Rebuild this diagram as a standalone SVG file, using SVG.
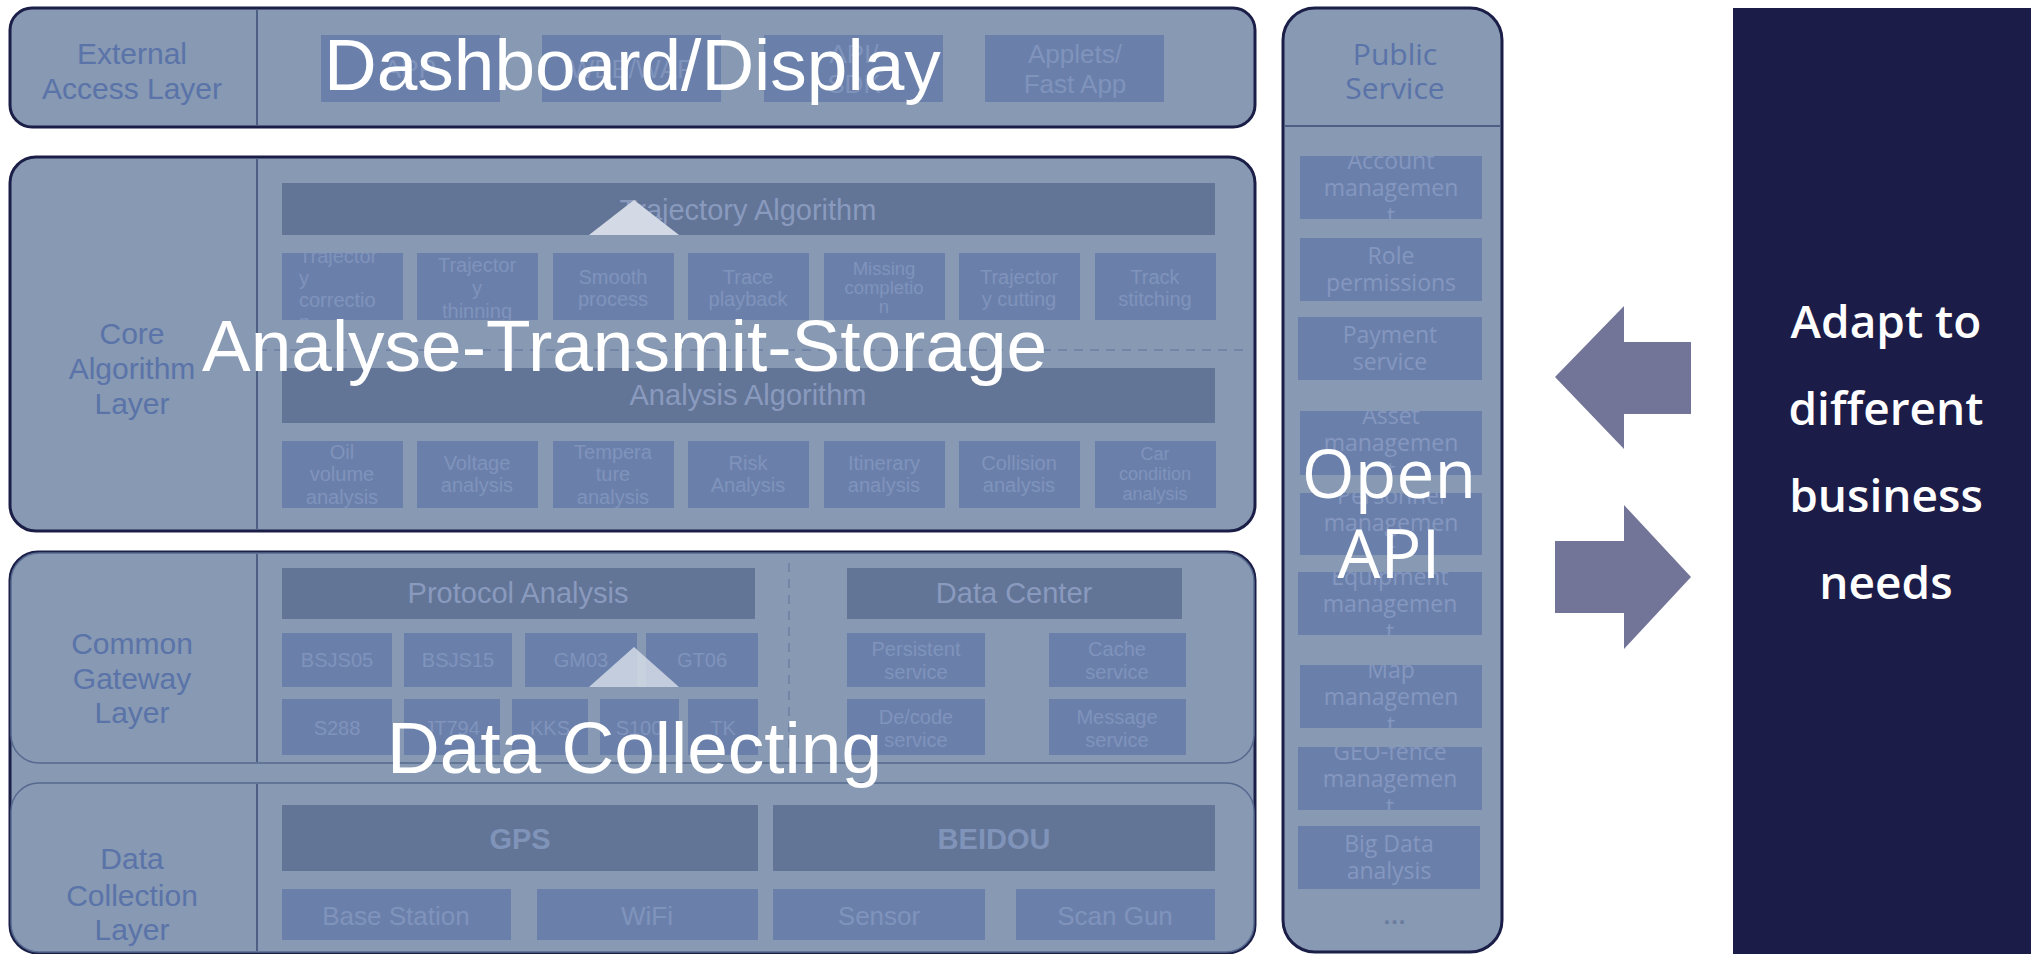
<svg xmlns="http://www.w3.org/2000/svg" width="2031" height="954" viewBox="0 0 2031 954">
<defs>
<style>
.layer{fill:#8799b3;stroke:#1b1f48;stroke-width:3}
.inner{fill:#8799b3;stroke:#56698f;stroke-width:1.5}
.div{stroke:#4d5f85;stroke-width:2}
.bar{fill:#627597}
.box{fill:#6a80ab}
.lbl{font-family:"Liberation Sans",Arial,sans-serif;font-size:30px;fill:#5a73a8;text-anchor:middle}
.bt{font-family:"Liberation Sans",Arial,sans-serif;font-size:29px;fill:#8a9abe;text-anchor:middle}
.st{font-family:"Liberation Sans",Arial,sans-serif;font-size:20px;fill:#8093bb;text-anchor:middle}
.mt{font-family:"Liberation Sans",Arial,sans-serif;font-size:26px;fill:#8093bb;text-anchor:middle}
.gt{font-family:"Liberation Sans",Arial,sans-serif;font-size:29px;font-weight:bold;fill:#8093b9;text-anchor:middle}
.pl{font-family:"Open Sans","Liberation Sans",sans-serif;font-size:30px;fill:#5a73a8;text-anchor:middle}
.pt{font-family:"Open Sans","Liberation Sans",sans-serif;font-size:23px;fill:#8597bf;text-anchor:middle}
.big{font-family:"Liberation Sans",Arial,sans-serif;font-size:73px;fill:#ffffff}
.api{font-family:"Open Sans","Liberation Sans",sans-serif;font-size:68px;fill:#ffffff;text-anchor:middle}
.adapt{font-family:"Open Sans","Liberation Sans",sans-serif;font-size:46px;font-weight:600;fill:#ffffff;text-anchor:middle}
.tri{fill:#d4dae5}
.arrow{fill:#737598}
</style>
<clipPath id="c1"><rect x="282" y="253" width="121" height="67"/></clipPath>
<clipPath id="c2"><rect x="417" y="253" width="121" height="67"/></clipPath>
<clipPath id="pa"><rect x="1300" y="156" width="182" height="63"/></clipPath>
<clipPath id="pb"><rect x="1300" y="411" width="182" height="64"/></clipPath>
<clipPath id="pc"><rect x="1300" y="493" width="182" height="62"/></clipPath>
<clipPath id="pd"><rect x="1298" y="572" width="184" height="63"/></clipPath>
<clipPath id="pe"><rect x="1300" y="665" width="182" height="63"/></clipPath>
<clipPath id="pf"><rect x="1298" y="747" width="184" height="63"/></clipPath>
</defs>

<g id="external-access-layer">
<rect class="layer" x="10" y="8" width="1245" height="119" rx="22"/>
<line class="div" x1="257" y1="9" x2="257" y2="126"/>
<text class="lbl" x="132" y="64">External</text>
<text class="lbl" x="132" y="99">Access Layer</text>
<rect class="box" x="321" y="35" width="179" height="67"/>
<text class="mt" x="410" y="78">APP</text>
<rect class="box" x="542" y="35" width="179" height="67"/>
<text class="mt" x="632" y="78">WEB/WAP</text>
<rect class="box" x="764" y="35" width="179" height="67"/>
<text class="mt" x="854" y="63">API/</text>
<text class="mt" x="854" y="93">SDK</text>
<rect class="box" x="985" y="35" width="179" height="67"/>
<text class="mt" x="1075" y="63">Applets/</text>
<text class="mt" x="1075" y="93">Fast App</text>
</g>

<g id="core-algorithm-layer">
<rect class="layer" x="10" y="157" width="1245" height="374" rx="26"/>
<line class="div" x1="257" y1="158" x2="257" y2="530"/>
<text class="lbl" x="132" y="344">Core</text>
<text class="lbl" x="132" y="379">Algorithm</text>
<text class="lbl" x="132" y="414">Layer</text>
<rect class="bar" x="282" y="183" width="933" height="52"/>
<text class="bt" x="748" y="220">Trajectory Algorithm</text>
<line x1="258" y1="350" x2="1243" y2="350" stroke="#6d7fa3" stroke-width="1.5" stroke-dasharray="9,7"/>
<rect class="bar" x="282" y="368" width="933" height="55"/>
<text class="bt" x="748" y="405">Analysis Algorithm</text>

<rect class="box" x="282" y="253" width="121" height="67"/>
<g clip-path="url(#c1)">
<text class="st" x="299" y="263" style="text-anchor:start">Trajector</text>
<text class="st" x="299" y="285" style="text-anchor:start">y</text>
<text class="st" x="299" y="307" style="text-anchor:start">correctio</text>
<text class="st" x="299" y="329" style="text-anchor:start">n</text>
</g>
<rect class="box" x="417" y="253" width="121" height="67"/>
<g clip-path="url(#c2)">
<text class="st" x="477" y="272">Trajector</text>
<text class="st" x="477" y="295">y</text>
<text class="st" x="477" y="318">thinning</text>
</g>
<rect class="box" x="553" y="253" width="121" height="67"/>
<text class="st" x="613" y="284">Smooth</text>
<text class="st" x="613" y="306">process</text>
<rect class="box" x="688" y="253" width="121" height="67"/>
<text class="st" x="748" y="284">Trace</text>
<text class="st" x="748" y="306">playback</text>
<rect class="box" x="824" y="253" width="121" height="67"/>
<text class="st" x="884" y="275" style="font-size:18.5px">Missing</text>
<text class="st" x="884" y="294" style="font-size:18.5px">completio</text>
<text class="st" x="884" y="313" style="font-size:18.5px">n</text>
<rect class="box" x="959" y="253" width="121" height="67"/>
<text class="st" x="1019" y="284">Trajector</text>
<text class="st" x="1019" y="306">y cutting</text>
<rect class="box" x="1095" y="253" width="121" height="67"/>
<text class="st" x="1155" y="284">Track</text>
<text class="st" x="1155" y="306">stitching</text>

<rect class="box" x="282" y="441" width="121" height="67"/>
<text class="st" x="342" y="459">Oil</text>
<text class="st" x="342" y="481">volume</text>
<text class="st" x="342" y="504">analysis</text>
<rect class="box" x="417" y="441" width="121" height="67"/>
<text class="st" x="477" y="470">Voltage</text>
<text class="st" x="477" y="492">analysis</text>
<rect class="box" x="553" y="441" width="121" height="67"/>
<text class="st" x="613" y="459">Tempera</text>
<text class="st" x="613" y="481">ture</text>
<text class="st" x="613" y="504">analysis</text>
<rect class="box" x="688" y="441" width="121" height="67"/>
<text class="st" x="748" y="470">Risk</text>
<text class="st" x="748" y="492">Analysis</text>
<rect class="box" x="824" y="441" width="121" height="67"/>
<text class="st" x="884" y="470">Itinerary</text>
<text class="st" x="884" y="492">analysis</text>
<rect class="box" x="959" y="441" width="121" height="67"/>
<text class="st" x="1019" y="470">Collision</text>
<text class="st" x="1019" y="492">analysis</text>
<rect class="box" x="1095" y="441" width="121" height="67"/>
<text class="st" x="1155" y="460" style="font-size:18px">Car</text>
<text class="st" x="1155" y="480" style="font-size:18px">condition</text>
<text class="st" x="1155" y="500" style="font-size:18px">analysis</text>
</g>

<g id="lower-frame">
<rect class="layer" x="10" y="552" width="1245" height="401" rx="28"/>
</g>

<g id="common-gateway-layer">
<rect class="inner" x="11" y="553" width="1243" height="210" rx="28"/>
<line class="div" x1="257" y1="554" x2="257" y2="762"/>
<text class="lbl" x="132" y="654">Common</text>
<text class="lbl" x="132" y="689">Gateway</text>
<text class="lbl" x="132" y="723">Layer</text>
<rect class="bar" x="282" y="568" width="473" height="51"/>
<text class="bt" x="518" y="603">Protocol Analysis</text>
<line x1="789" y1="563" x2="789" y2="753" stroke="#6d7fa3" stroke-width="1.5" stroke-dasharray="9,7"/>
<rect class="bar" x="847" y="568" width="335" height="51"/>
<text class="bt" x="1014" y="603">Data Center</text>
<rect class="box" x="282" y="633" width="110" height="54"/>
<text class="st" x="337" y="667">BSJS05</text>
<rect class="box" x="404" y="633" width="108" height="54"/>
<text class="st" x="458" y="667">BSJS15</text>
<rect class="box" x="525" y="633" width="112" height="54"/>
<text class="st" x="581" y="667">GM03</text>
<rect class="box" x="646" y="633" width="112" height="54"/>
<text class="st" x="702" y="667">GT06</text>
<rect class="box" x="282" y="699" width="110" height="56"/>
<text class="st" x="337" y="735">S288</text>
<rect class="box" x="404" y="699" width="96" height="56"/>
<text class="st" x="452" y="735">JT794</text>
<rect class="box" x="512" y="699" width="76" height="56"/>
<text class="st" x="550" y="735">KKS</text>
<rect class="box" x="600" y="699" width="79" height="56"/>
<text class="st" x="639" y="735">S100</text>
<rect class="box" x="688" y="699" width="70" height="56"/>
<text class="st" x="723" y="735">TK</text>
<rect class="box" x="847" y="633" width="138" height="54"/>
<text class="st" x="916" y="656">Persistent</text>
<text class="st" x="916" y="679">service</text>
<rect class="box" x="1049" y="633" width="137" height="54"/>
<text class="st" x="1117" y="656">Cache</text>
<text class="st" x="1117" y="679">service</text>
<rect class="box" x="847" y="699" width="138" height="56"/>
<text class="st" x="916" y="724">De/code</text>
<text class="st" x="916" y="747">service</text>
<rect class="box" x="1049" y="699" width="137" height="56"/>
<text class="st" x="1117" y="724">Message</text>
<text class="st" x="1117" y="747">service</text>
</g>

<g id="data-collection-layer">
<rect class="inner" x="11" y="783" width="1243" height="169" rx="28"/>
<line class="div" x1="257" y1="784" x2="257" y2="951"/>
<text class="lbl" x="132" y="869">Data</text>
<text class="lbl" x="132" y="906">Collection</text>
<text class="lbl" x="132" y="940">Layer</text>
<rect class="bar" x="282" y="805" width="476" height="66"/>
<text class="gt" x="520" y="849">GPS</text>
<rect class="bar" x="773" y="805" width="442" height="66"/>
<text class="gt" x="994" y="849">BEIDOU</text>
<rect class="box" x="282" y="889" width="229" height="51"/>
<text class="mt" x="396" y="925">Base Station</text>
<rect class="box" x="537" y="889" width="221" height="51"/>
<text class="mt" x="647" y="925">WiFi</text>
<rect class="box" x="773" y="889" width="212" height="51"/>
<text class="mt" x="879" y="925">Sensor</text>
<rect class="box" x="1016" y="889" width="199" height="51"/>
<text class="mt" x="1115" y="925">Scan Gun</text>
</g>

<g id="public-service">
<rect class="layer" x="1283" y="8" width="219" height="944" rx="32"/>
<line class="div" x1="1284" y1="126" x2="1501" y2="126"/>
<text class="pl" x="1395" y="65">Public</text>
<text class="pl" x="1395" y="99">Service</text>
<rect class="box" x="1300" y="156" width="182" height="63"/>
<g clip-path="url(#pa)">
<text class="pt" x="1391" y="169">Account</text>
<text class="pt" x="1391" y="196">managemen</text>
<text class="pt" x="1391" y="224">t</text>
</g>
<rect class="box" x="1300" y="238" width="182" height="63"/>
<text class="pt" x="1391" y="264">Role</text>
<text class="pt" x="1391" y="291">permissions</text>
<rect class="box" x="1298" y="317" width="184" height="63"/>
<text class="pt" x="1390" y="343">Payment</text>
<text class="pt" x="1390" y="370">service</text>
<rect class="box" x="1300" y="411" width="182" height="64"/>
<g clip-path="url(#pb)">
<text class="pt" x="1391" y="424">Asset</text>
<text class="pt" x="1391" y="451">managemen</text>
<text class="pt" x="1391" y="479">t</text>
</g>
<rect class="box" x="1300" y="493" width="182" height="62"/>
<g clip-path="url(#pc)">
<text class="pt" x="1391" y="504">Personnel</text>
<text class="pt" x="1391" y="531">managemen</text>
<text class="pt" x="1391" y="559">t</text>
</g>
<rect class="box" x="1298" y="572" width="184" height="63"/>
<g clip-path="url(#pd)">
<text class="pt" x="1390" y="585">Equipment</text>
<text class="pt" x="1390" y="612">managemen</text>
<text class="pt" x="1390" y="640">t</text>
</g>
<rect class="box" x="1300" y="665" width="182" height="63"/>
<g clip-path="url(#pe)">
<text class="pt" x="1391" y="678">Map</text>
<text class="pt" x="1391" y="705">managemen</text>
<text class="pt" x="1391" y="733">t</text>
</g>
<rect class="box" x="1298" y="747" width="184" height="63"/>
<g clip-path="url(#pf)">
<text class="pt" x="1390" y="760">GEO-fence</text>
<text class="pt" x="1390" y="787">managemen</text>
<text class="pt" x="1390" y="815">t</text>
</g>
<rect class="box" x="1298" y="826" width="182" height="63"/>
<text class="pt" x="1389" y="852">Big Data</text>
<text class="pt" x="1389" y="879">analysis</text>
<text x="1395" y="924" style="font-family:'Liberation Sans',Arial,sans-serif;font-size:24px;font-weight:bold;fill:#6b7b9d;text-anchor:middle;letter-spacing:1px">...</text>
</g>

<g id="connectors">
<polygon class="arrow" points="1555,377 1624,306 1624,342 1691,342 1691,414 1624,414 1624,449"/>
<polygon class="arrow" points="1691,577 1624,505 1624,541 1555,541 1555,613 1624,613 1624,649"/>
</g>

<g id="business-needs">
<rect x="1733" y="8" width="298" height="946" fill="#1c1c48"/>
<text class="adapt" x="1886" y="338">Adapt to</text>
<text class="adapt" x="1886" y="425">different</text>
<text class="adapt" x="1886" y="512">business</text>
<text class="adapt" x="1886" y="599">needs</text>
</g>

<g id="overlay">
<polygon class="tri" points="634,200 589,235 679,235"/>
<polygon class="tri" points="634,647 589,687 679,687" opacity="0.85"/>
<text class="big" x="324" y="90">Dashboard/Display</text>
<text class="big" x="202" y="371">Analyse-Transmit-Storage</text>
<text class="big" x="387" y="773">Data Collecting</text>
<text class="api" x="1389" y="498">Open</text>
<text class="api" x="1389" y="578">API</text>
</g>
</svg>
